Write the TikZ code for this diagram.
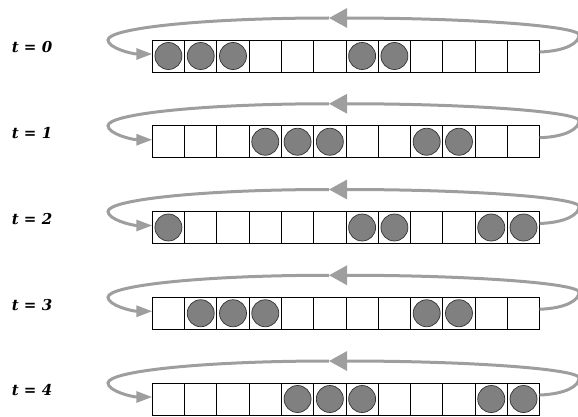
\documentclass[tikz,border=0pt]{standalone}
\usepackage{fontspec}
\newfontfamily\lblfont{DejaVu Serif}
\usepackage{tikz}
\usetikzlibrary{arrows.meta,positioning,calc}
\tikzset{
	cell/.style    = {rectangle,draw=black,line width=0.8pt,
		minimum width=32.28pt,minimum height=32pt,
		inner sep=0pt,outer sep=0pt},
	ball/.style    = {circle,draw=black!80,fill=black!50,line width=0.7pt,
		minimum size=27pt,inner sep=0pt},
	loopline/.style= {line width=3pt,draw=black!38},
	toptip/.style  = {-{Triangle[length=18pt,width=19pt]}},
	endtip/.style  = {-{Triangle[length=16pt,width=11pt]}},
	tlbl/.style    = {font=\lblfont\fontsize{15}{15}\selectfont\bfseries\itshape},
}
\begin{document}
\begin{tikzpicture}[x=1pt,y=1pt]
			\useasboundingbox (0,0) rectangle (578,416);
			\foreach \r/\occ in {0/{1,2,3,7,8},1/{4,5,6,9,10},2/{1,7,8,11,12},
				3/{2,3,4,9,10},4/{5,6,7,11,12}}{
				\pgfmathsetmacro\yc{360-85.75*\r}
				%% Cases
				\foreach \i in {1,...,12}
				\node (c\r\i) [cell] at ({152.3+32.28*(\i-0.5)},\yc) {};
				%% Particules
				\foreach \i in \occ
				\node (b\r\i) [ball] at (c\r\i) {};
				%% Etiquette
				\node (t\r) [tlbl] at (32,\yc+8.5) {t = \r};
				%% Boucle periodique
				\coordinate (re\r) at (579,\yc+21);
				\coordinate (tp\r) at (329,\yc+38);
				\coordinate (le\r) at (108,\yc+16);
				\draw[loopline,toptip]([yshift=4pt]c\r12.east)
				.. controls (566,\yc+5) and (579,\yc+13) .. (re\r)
				.. controls (579,\yc+30) and (470,\yc+38) .. (tp\r);
				\draw[loopline,endtip](tp\r)
				.. controls (205,\yc+38) and (108,\yc+28) .. (le\r)
				.. controls (108,\yc+8) and (132,\yc+2) .. ([yshift=2pt]c\r1.west);
			}
		\end{tikzpicture}
\end{document}
